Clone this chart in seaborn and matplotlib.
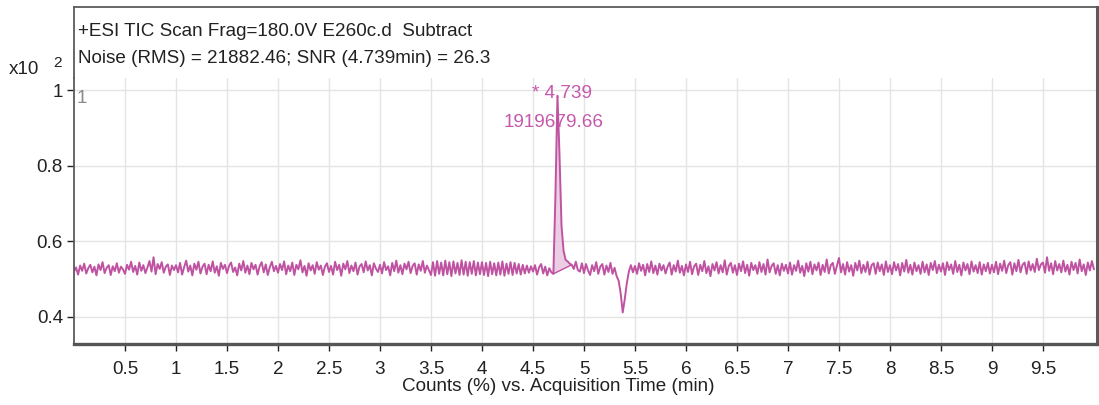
import numpy as np
import matplotlib
matplotlib.use("Agg")
import matplotlib.pyplot as plt
import seaborn as sns

# ---------------- data ----------------
t_start, t_step = 0.0, 0.02          # acquisition sampling (min)
# Counts (%) x10^2, stored in thousandths
counts_milli = [
    520, 531, 512, 536, 522, 541, 515, 529, 538, 518, 533, 510, 539, 524, 545, 516, 530, 537, 511, 534, 521, 542, 517, 533, 526,
    514, 538, 525, 546, 519, 535, 512, 544, 522, 537, 516, 531, 548, 520, 558, 513, 540, 527, 545, 517, 533, 539, 511, 536, 524,
    537, 518, 543, 512, 532, 549, 520, 536, 510, 541, 525, 546, 515, 533, 541, 513, 538, 521, 547, 517, 534, 509, 543, 527, 538,
    516, 535, 544, 519, 531, 510, 541, 523, 548, 517, 536, 513, 543, 526, 538, 512, 534, 545, 518, 539, 511, 532, 546, 521, 535,
    517, 540, 524, 547, 513, 536, 521, 544, 511, 538, 526, 550, 518, 535, 509, 542, 523, 537, 514, 545, 525, 536, 511, 533, 542,
    519, 535, 512, 546, 524, 538, 509, 541, 526, 548, 516, 536, 521, 544, 512, 534, 540, 518, 547, 523, 537, 510, 542, 528, 519,
    538, 515, 545, 524, 534, 510, 543, 521, 549, 517, 537, 513, 541, 526, 546, 516, 535, 542, 512, 539, 522, 548, 517, 536, 524,
    511, 545, 509, 548, 514, 544, 510, 549, 513, 545, 508, 547, 515, 543, 511, 550, 512, 546, 509, 545, 514, 548, 510, 544, 513,
    545, 511, 543, 508, 546, 513, 542, 510, 544, 512, 547, 509, 541, 514, 545, 511, 543, 515, 540, 512, 538, 515, 536, 517, 534,
    520, 537, 512, 531, 540, 515, 533, 510, 529, 518, 514, 720, 985, 830, 640, 575, 551, 547, 541, 538, 527, 546, 524, 520, 542,
    516, 540, 523, 511, 537, 521, 545, 514, 533, 540, 512, 536, 519, 543, 514, 530, 508, 496, 462, 412, 447, 489, 520, 537, 518,
    535, 514, 542, 522, 538, 510, 540, 519, 547, 516, 536, 512, 541, 523, 537, 515, 533, 544, 512, 537, 520, 549, 517, 535, 510,
    539, 519, 546, 513, 534, 541, 511, 538, 521, 548, 516, 534, 508, 540, 523, 545, 515, 537, 518, 550, 512, 535, 543, 517, 537,
    511, 541, 521, 547, 516, 538, 509, 543, 524, 537, 514, 545, 519, 540, 512, 552, 518, 535, 542, 514, 537, 510, 541, 522, 538,
    515, 544, 512, 537, 522, 549, 517, 535, 508, 542, 520, 546, 513, 539, 523, 544, 511, 538, 519, 552, 515, 537, 543, 514, 535,
    556, 518, 540, 512, 545, 520, 537, 509, 543, 523, 549, 516, 538, 519, 546, 512, 537, 542, 514, 544, 521, 539, 511, 547, 519,
    537, 513, 545, 523, 540, 510, 543, 520, 551, 517, 538, 512, 544, 521, 537, 514, 546, 518, 539, 511, 543, 524, 548, 516, 538,
    520, 542, 511, 545, 524, 539, 514, 548, 519, 538, 510, 544, 523, 540, 513, 547, 520, 537, 516, 545, 512, 539, 521, 543, 515,
    538, 518, 546, 513, 541, 522, 549, 516, 537, 545, 512, 542, 521, 551, 518, 538, 544, 514, 547, 523, 540, 519, 554, 524, 539,
    544, 517, 558, 522, 542, 513, 548, 523, 540, 518, 549, 520, 538, 512, 546, 524, 543, 515, 552, 521, 539, 511, 544, 523, 548,
    526,
]
peak_time = 4.739
peak_area_label = "1919679.66"
peak_window = [4.70, 4.88]           # integration start / end (min)
x_ticks = [0.5, 1, 1.5, 2, 2.5, 3, 3.5, 4, 4.5, 5, 5.5, 6, 6.5, 7, 7.5, 8, 8.5, 9, 9.5]
x_tick_labels = ["0.5", "1", "1.5", "2", "2.5", "3", "3.5", "4", "4.5", "5",
                 "5.5", "6", "6.5", "7", "7.5", "8", "8.5", "9", "9.5"]
y_ticks = [0.4, 0.6, 0.8, 1.0]
y_tick_labels = ["0.4", "0.6", "0.8", "1"]
title_line1 = "+ESI TIC Scan Frag=180.0V E260c.d  Subtract"
title_line2 = "Noise (RMS) = 21882.46; SNR (4.739min) = 26.3"
x_label = "Counts (%) vs. Acquisition Time (min)"

# ---------------- derived ----------------
y = np.array(counts_milli) / 1000.0
t = t_start + t_step * np.arange(len(y))

# ---------------- style ----------------
sns.set_theme(style="white")
plt.rcParams["font.family"] = ["Liberation Sans", "DejaVu Sans"]
FS = 13.6
LINE = "#bf53a2"
TXT = "#c658ad"
FILL = "#e9c6e0"
DARK = "#222222"

W, H = 1099, 405
fig = plt.figure(figsize=(W / 100, H / 100), dpi=100)

def fx(px):
    return px / W

def fy(py):
    return 1 - py / H

left_px, right_px = 74, 1097
top_px, grid_top_px, bottom_px = 7, 78, 344

ax = fig.add_axes([fx(left_px), fy(bottom_px), fx(right_px - left_px),
                   (bottom_px - grid_top_px) / H])
ax_h = fig.add_axes([fx(left_px), fy(grid_top_px), fx(right_px - left_px),
                     (grid_top_px - top_px) / H])

# header box
ax_h.set_xticks([]); ax_h.set_yticks([])
ax_h.spines["bottom"].set_visible(False)
for s in ["left", "top", "right"]:
    ax_h.spines[s].set_color("#5a5a5a")
ax_h.spines["left"].set_linewidth(1.3)
ax_h.spines["top"].set_linewidth(1.3)
ax_h.spines["right"].set_linewidth(2.2)
ax_h.text(0.004, 0.66, title_line1, transform=ax_h.transAxes, fontsize=FS,
          color=DARK, va="center", ha="left")
ax_h.text(0.004, 0.27, title_line2, transform=ax_h.transAxes, fontsize=FS,
          color=DARK, va="center", ha="left")

# trace
sns.lineplot(x=t, y=y, ax=ax, color=LINE, linewidth=1.4, estimator=None)

# integrated peak region
mask = (t >= peak_window[0] - 1e-9) & (t <= peak_window[1] + 1e-9)
ax.fill(t[mask], y[mask], color=FILL, alpha=0.85, zorder=1, linewidth=0)
ax.plot(t[mask][[0, -1]], y[mask][[0, -1]], color=LINE, linewidth=1.0)

# peak labels
ipk = int(np.argmax(y))
ax.annotate("* " + f"{peak_time:.3f}", xy=(t[ipk], y[ipk]), xytext=(3, 1.5),
            textcoords="offset points", ha="center", va="center",
            fontsize=FS, color=TXT)
ax.annotate(peak_area_label, xy=(t[ipk], y[ipk]), xytext=(-3, -19),
            textcoords="offset points", ha="center", va="center",
            fontsize=FS, color=TXT)

# axes
ax.set_xlim(0, 10.03)
ax.set_ylim(0.3285, 1.032)
ax.set_xticks(x_ticks)
ax.set_xticklabels(x_tick_labels)
ax.set_yticks(y_ticks)
ax.set_yticklabels(y_tick_labels)
ax.tick_params(axis="both", labelsize=FS, colors=DARK, length=5, width=1,
               direction="out", bottom=True, left=True)
ax.tick_params(axis="x", pad=7)
ax.tick_params(axis="y", pad=3)
ax.grid(True, color="#e4e4e4", linewidth=1)
ax.set_axisbelow(True)
ax.set_xlabel(x_label, fontsize=FS, color=DARK, labelpad=0, x=0.473)
ax.set_ylabel("")
ax.spines["top"].set_visible(False)
ax.spines["right"].set_color("#5a5a5a")
ax.spines["right"].set_linewidth(2.2)
ax.spines["left"].set_color("#5a5a5a")
ax.spines["left"].set_linewidth(1.3)
ax.spines["bottom"].set_color("#555555")
ax.spines["bottom"].set_linewidth(2.4)

# scale factor label and compound marker
fig.text(fx(9), fy(69), "x10", fontsize=FS, color=DARK, va="center", ha="left")
fig.text(fx(53), fy(63), "2", fontsize=FS - 2.5, color=DARK, va="center", ha="left")
ax.text(0.003, 1.0, "1", fontsize=FS, color="#8a8a8a", va="top", ha="left",
        transform=ax.get_yaxis_transform())

fig.savefig("out.png", dpi=100)
